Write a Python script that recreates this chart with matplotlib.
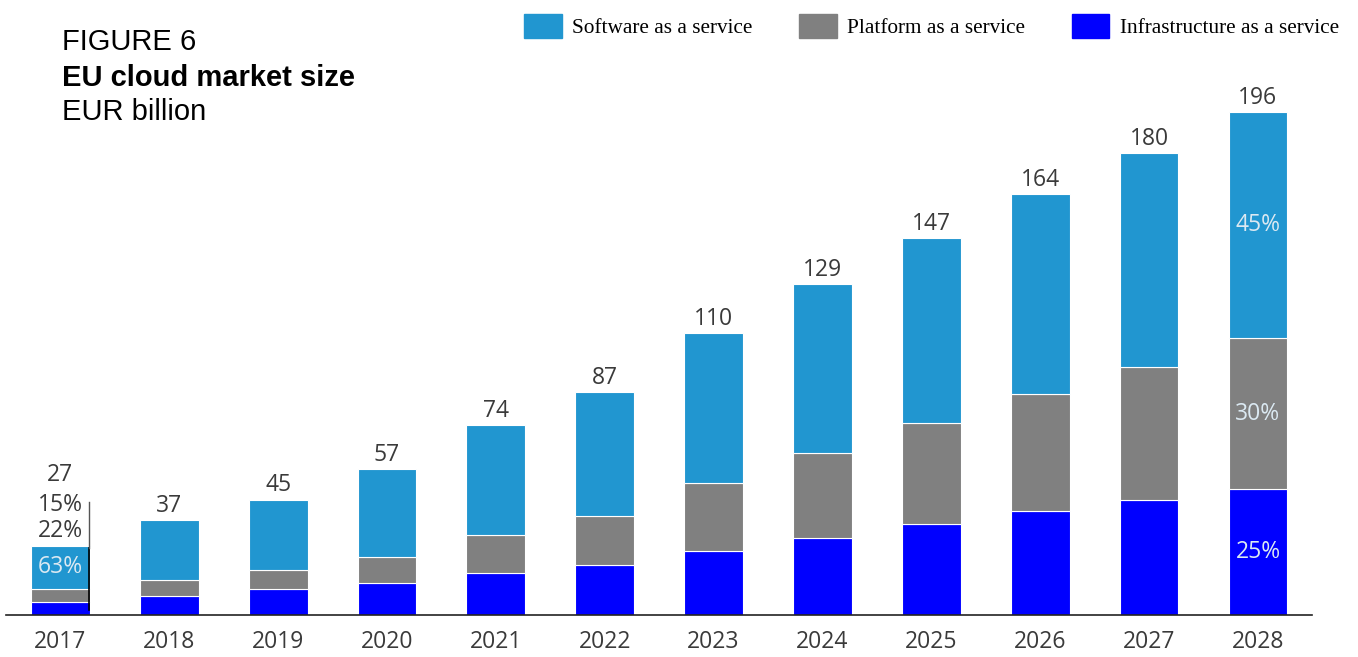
import matplotlib.pyplot as plt
from matplotlib.patches import Patch

years = ["2017", "2018", "2019", "2020", "2021", "2022",
         "2023", "2024", "2025", "2026", "2027", "2028"]
iaas = [5, 7.5, 10, 12.5, 16.5, 19.5, 25, 30, 35.5, 40.5, 45, 49]
paas = [5, 6, 7.5, 10, 14.5, 19, 26.5, 33, 39.5, 45.5, 51.5, 59]
saas = [17, 23.5, 27.5, 34.5, 43, 48.5, 58.5, 66, 72, 78, 83.5, 88]
totals = [27, 37, 45, 57, 74, 87, 110, 129, 147, 164, 180, 196]
share_2017 = ["15%", "22%", "63%"]   # iaas, paas, saas
share_2028 = ["25%", "30%", "45%"]

c_saas = "#2196d0"
c_paas = "#808080"
c_iaas = "#0000ff"
txt = "#3a3a3a"
light = "#dbe9f2"
fs = 16.5

fig = plt.figure(figsize=(13.58, 6.57), dpi=100)
ax = fig.add_axes([0.0044, 0.064, 0.962, 0.814])

x = list(range(len(years)))
w = 0.54
bottom2 = [a + b for a, b in zip(iaas, paas)]
ax.bar(x, iaas, w, color=c_iaas, edgecolor="white", linewidth=0.8)
ax.bar(x, paas, w, bottom=iaas, color=c_paas, edgecolor="white", linewidth=0.8)
ax.bar(x, saas, w, bottom=bottom2, color=c_saas, edgecolor="white", linewidth=0.8)

for i, t in enumerate(totals):
    top = iaas[i] + paas[i] + saas[i]
    if i == 0:
        continue
    ax.annotate(str(t), (i, top), xytext=(0, 1.5), textcoords="offset points",
                ha="center", va="bottom", fontsize=fs, color=txt, family="Open Sans")

# 2017 labels stacked above the small bar
top0 = iaas[0] + paas[0] + saas[0]
ax.annotate(share_2017[1], (0, top0), xytext=(0, 2), textcoords="offset points",
            ha="center", va="bottom", fontsize=fs, color=txt, family="Open Sans")
ax.annotate(share_2017[0], (0, top0), xytext=(0, 21), textcoords="offset points",
            ha="center", va="bottom", fontsize=fs, color=txt, family="Open Sans")
ax.annotate(str(totals[0]), (0, top0), xytext=(0, 42), textcoords="offset points",
            ha="center", va="bottom", fontsize=fs, color=txt, family="Open Sans")
ax.text(0, bottom2[0] + saas[0] / 2, share_2017[2], ha="center", va="center",
        fontsize=fs, color=light, family="Open Sans")
ax.plot([0.26, 0.26], [2, 26], color="black", linewidth=1.2)
ax.plot([0.26, 0.26], [26, 44], color="#555555", linewidth=1.0)

# 2028 shares inside the bar
j = len(years) - 1
ax.text(j, iaas[j] / 2, share_2028[0], ha="center", va="center",
        fontsize=fs, color=light, family="Open Sans")
ax.text(j, iaas[j] + paas[j] / 2, share_2028[1], ha="center", va="center",
        fontsize=fs, color=light, family="Open Sans")
ax.text(j, bottom2[j] + saas[j] / 2, share_2028[2], ha="center", va="center",
        fontsize=fs, color=light, family="Open Sans")

ax.set_xlim(-0.5, len(years) - 0.5)
ax.set_ylim(0, 208.5)
ax.set_xticks(x)
ax.set_xticklabels(years, fontsize=fs, color=txt, family="Open Sans")
ax.tick_params(axis="x", length=0, pad=11)
ax.set_yticks([])
for s in ["top", "right", "left"]:
    ax.spines[s].set_visible(False)
ax.spines["bottom"].set_color("#222222")
ax.spines["bottom"].set_linewidth(1.2)

fig.text(0.0457, 0.936, "FIGURE 6", fontsize=21, family="Liberation Sans", va="center")
fig.text(0.0457, 0.882, "EU cloud market size", fontsize=21, fontweight="bold",
         family="Liberation Sans", va="center")
fig.text(0.0457, 0.830, "EUR billion", fontsize=21, family="Liberation Sans", va="center")

handles = [Patch(color=c_saas), Patch(color=c_paas), Patch(color=c_iaas)]
labels = ["Software as a service", "Platform as a service", "Infrastructure as a service"]
fig.legend(handles, labels, loc="upper right", bbox_to_anchor=(1.0, 1.008), ncol=3,
           frameon=False, prop={"family": "Liberation Serif", "size": 15.3},
           handlelength=1.75, handleheight=1.35, handletextpad=0.5, columnspacing=2.2)

fig.savefig("out.png", dpi=100)
